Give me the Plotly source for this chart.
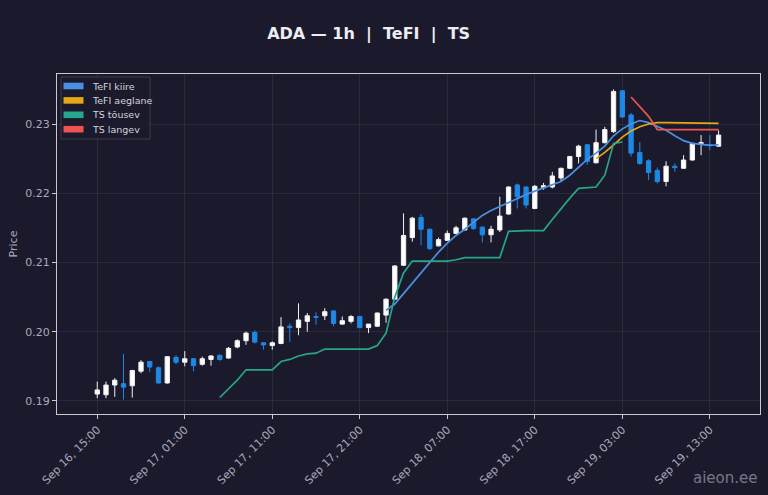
import plotly.graph_objs as go
import pandas as pd

# hourly candles, Sep 16 15:00 -> Sep 19 14:00
times = pd.date_range('2025-09-16 15:00', periods=72, freq='h')

opens = [0.1910, 0.1909, 0.1923, 0.1925, 0.1922, 0.1943, 0.1957, 0.1948, 0.1926, 0.1963,
         0.1956, 0.1961, 0.1953, 0.1960, 0.1966, 0.1962, 0.1978, 0.1987, 0.1999, 0.1984,
         0.1980, 0.1983, 0.2008, 0.2006, 0.2015, 0.2022, 0.2023, 0.2030, 0.2011, 0.2015,
         0.2022, 0.2006, 0.2008, 0.2024, 0.2047, 0.2096, 0.2136, 0.2165, 0.2148, 0.2124,
         0.2132, 0.2142, 0.2147, 0.2163, 0.2151, 0.2140, 0.2147, 0.2170, 0.2212, 0.2209,
         0.2178, 0.2208, 0.2209, 0.2222, 0.2236, 0.2253, 0.2270, 0.2244, 0.2273, 0.2289,
         0.2348, 0.2313, 0.2259, 0.2247, 0.2233, 0.2217, 0.2239, 0.2236, 0.2248, 0.2272,
         0.2270, 0.2268]
highs = [0.1928, 0.1928, 0.1933, 0.1968, 0.1945, 0.1959, 0.1958, 0.1950, 0.1965, 0.1966,
         0.1972, 0.1962, 0.1964, 0.1966, 0.1967, 0.1978, 0.1989, 0.2000, 0.2002, 0.1985,
         0.1986, 0.2021, 0.2012, 0.2041, 0.2027, 0.2028, 0.2034, 0.2031, 0.2022, 0.2024,
         0.2023, 0.2011, 0.2028, 0.2048, 0.2096, 0.2171, 0.2166, 0.2170, 0.2149, 0.2136,
         0.2146, 0.2153, 0.2165, 0.2164, 0.2152, 0.2153, 0.2195, 0.2210, 0.2214, 0.2210,
         0.2212, 0.2215, 0.2231, 0.2237, 0.2254, 0.2270, 0.2271, 0.2292, 0.2296, 0.2350,
         0.2349, 0.2316, 0.2274, 0.2249, 0.2237, 0.2246, 0.2243, 0.2255, 0.2273, 0.2284,
         0.2284, 0.2291]
lows = [0.1904, 0.1904, 0.1906, 0.1902, 0.1905, 0.1940, 0.1942, 0.1925, 0.1925, 0.1953,
        0.1950, 0.1943, 0.1951, 0.1951, 0.1958, 0.1961, 0.1976, 0.1981, 0.1983, 0.1974,
        0.1974, 0.1982, 0.1985, 0.1995, 0.2000, 0.2010, 0.2017, 0.2008, 0.2010, 0.2012,
        0.2005, 0.1998, 0.2007, 0.2013, 0.2046, 0.2095, 0.2130, 0.2125, 0.2118, 0.2123,
        0.2131, 0.2141, 0.2146, 0.2147, 0.2129, 0.2129, 0.2144, 0.2169, 0.2178, 0.2178,
        0.2177, 0.2205, 0.2207, 0.2217, 0.2235, 0.2243, 0.2241, 0.2243, 0.2272, 0.2287,
        0.2309, 0.2253, 0.2241, 0.2219, 0.2214, 0.2210, 0.2231, 0.2235, 0.2247, 0.2255,
        0.2262, 0.2267]
closes = [0.1916, 0.1923, 0.1930, 0.1920, 0.1944, 0.1956, 0.1949, 0.1926, 0.1964, 0.1956,
          0.1961, 0.1951, 0.1961, 0.1965, 0.1960, 0.1976, 0.1987, 0.1998, 0.1985, 0.1981,
          0.1984, 0.2007, 0.2006, 0.2017, 0.2023, 0.2021, 0.2029, 0.2012, 0.2016, 0.2022,
          0.2006, 0.2011, 0.2027, 0.2047, 0.2095, 0.2139, 0.2164, 0.2148, 0.2120, 0.2133,
          0.2142, 0.2150, 0.2164, 0.2149, 0.2140, 0.2148, 0.2167, 0.2209, 0.2195, 0.2183,
          0.2210, 0.2211, 0.2225, 0.2236, 0.2253, 0.2268, 0.2246, 0.2273, 0.2292, 0.2347,
          0.2310, 0.2258, 0.2243, 0.2230, 0.2217, 0.2239, 0.2237, 0.2248, 0.2272, 0.2273,
          0.2269, 0.2284]

# indicator lines (each starts at a given candle index)
fast_start = 33
tefi_fast = [0.2031, 0.2040, 0.2055, 0.2070, 0.2086, 0.2101, 0.2115, 0.2128, 0.2139, 0.2148,
             0.2158, 0.2168, 0.2175, 0.2181, 0.2186, 0.2192, 0.2198, 0.2203, 0.2208, 0.2213,
             0.2217, 0.2226, 0.2237, 0.2249, 0.2258, 0.2268, 0.2283, 0.2293, 0.2300, 0.2305,
             0.2302, 0.2297, 0.2291, 0.2283, 0.2276, 0.2272, 0.2270, 0.2269, 0.2270]
slow_start = 57
tefi_slow = [0.2250, 0.2259, 0.2270, 0.2281, 0.2290, 0.2296, 0.2300, 0.2302, 0.2302, 0.2302,
             0.2301, 0.2301, 0.2301, 0.2301, 0.2301]
up_start = 14
ts_up = [0.1905, 0.1918, 0.1930, 0.1945, 0.1945, 0.1945, 0.1945, 0.1957, 0.1960, 0.1965,
         0.1968, 0.1969, 0.1975, 0.1975, 0.1975, 0.1975, 0.1975, 0.1975, 0.1980, 0.1998,
         0.2050, 0.2085, 0.2102, 0.2102, 0.2102, 0.2102, 0.2102, 0.2104, 0.2107, 0.2107,
         0.2107, 0.2107, 0.2107, 0.2145, 0.2146, 0.2146, 0.2146, 0.2146, 0.2162, 0.2178,
         0.2193, 0.2207, 0.2208, 0.2209, 0.2226, 0.2272, 0.2274]
down_start = 61
ts_down = [0.2339, 0.2325, 0.2311, 0.2292, 0.2292, 0.2292, 0.2292, 0.2292, 0.2292, 0.2292,
           0.2292]

bg = '#1b1a2d'
c_fast = '#4a90e2'
c_slow = '#e6a817'
c_up = '#26a68a'
c_down = '#ef5350'
txt = '#a9a9b8'

data = [go.Candlestick(
    x=times, open=opens, high=highs, low=lows, close=closes,
    increasing=dict(line=dict(color='#f2f2f2', width=1), fillcolor='#ffffff'),
    decreasing=dict(line=dict(color='#1e88e5', width=1), fillcolor='#1e88e5'),
    whiskerwidth=0,
    showlegend=False,
    hoverinfo='skip',
)]

series = [
    ('TeFI kiire', tefi_fast, fast_start, c_fast),
    ('TeFI aeglane', tefi_slow, slow_start, c_slow),
    ('TS tõusev', ts_up, up_start, c_up),
    ('TS langev', ts_down, down_start, c_down),
]
for name, vals, start, color in series:
    data.append(go.Scatter(
        x=times[start:start + len(vals)], y=vals, mode='lines', name=name,
        line=dict(color=color, width=1.7),
        showlegend=False,
    ))

# compact matplotlib-style legend box (paper coords: plot spans 57..760 x 74..414 px)
def px(x):
    return (x - 57) / 703.0

def py(y):
    return (414 - y) / 340.0

shapes = [dict(type='rect', xref='paper', yref='paper',
               x0=px(61), x1=px(150), y0=py(139), y1=py(77),
               fillcolor='rgba(27,26,45,0.85)', line=dict(color='rgba(255,255,255,0.14)', width=1))]
annotations = []
for k, (name, vals, start, color) in enumerate(series):
    yc = 86 + 14.4 * k
    shapes.append(dict(type='rect', xref='paper', yref='paper',
                       x0=px(63.5), x1=px(83.5), y0=py(yc + 3.3), y1=py(yc - 3.3),
                       fillcolor=color, line=dict(width=0)))
    annotations.append(dict(text=name, xref='paper', yref='paper', x=px(90), y=py(yc),
                            xanchor='left', yanchor='middle', showarrow=False,
                            font=dict(family='DejaVu Sans', size=9.5, color='#d4d4dc')))

annotations.append(dict(text='aieon.ee', xref='paper', yref='paper', x=1.0, y=-0.188,
                        xanchor='right', yanchor='middle', showarrow=False,
                        font=dict(family='DejaVu Sans', size=15, color='rgba(200,200,210,0.55)')))

axis_common = dict(
    showline=True, mirror=True, linecolor='#c9c9d6', linewidth=1,
    ticks='outside', ticklen=4, tickcolor='#c9c9d6',
    gridcolor='rgba(255,255,255,0.07)', zeroline=False, automargin=False,
    tickfont=dict(family='DejaVu Sans', size=11, color=txt),
)

layout = go.Layout(
    width=768, height=495,
    paper_bgcolor=bg, plot_bgcolor=bg,
    margin=dict(l=57, r=8, t=74, b=81),
    showlegend=False,
    title=dict(text='ADA — 1h\u00a0\u00a0|\u00a0\u00a0TeFI\u00a0\u00a0|\u00a0\u00a0TS',
               x=0.48, xanchor='center', y=0.933, yanchor='middle', automargin=False,
               font=dict(family='DejaVu Sans', size=16, color='#ececf2', weight='bold')),
    xaxis=dict(axis_common,
               type='date',
               range=['2025-09-16 10:24', '2025-09-19 18:44'],
               tick0='2025-09-16 15:00', dtick=10 * 3600 * 1000,
               tickformat='%b %d, %H:%M', tickangle=-45,
               rangeslider=dict(visible=False)),
    yaxis=dict(axis_common,
               range=[0.18812, 0.23722], dtick=0.01, tickformat='.2f',
               title=dict(text='Price', standoff=5,
                          font=dict(family='DejaVu Sans', size=11, color=txt))),
    shapes=shapes,
    annotations=annotations,
)

fig = go.Figure(data=data, layout=layout)
fig.write_html('out.html', config={'displayModeBar': False},
               post_script="document.body.style.margin='0';document.body.style.overflow='hidden';")
